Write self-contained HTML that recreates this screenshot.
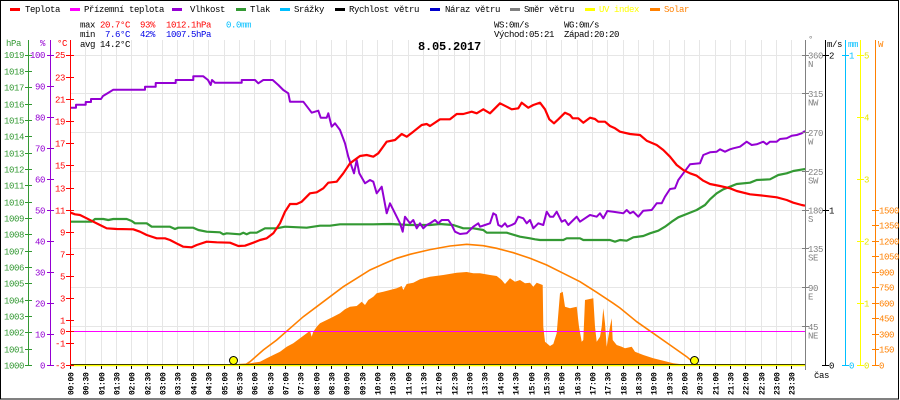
<!DOCTYPE html>
<html><head><meta charset="utf-8"><style>
body{margin:0;background:#fff}
svg{display:block}
text{font-family:"Liberation Mono","DejaVu Sans Mono",monospace;font-size:9px;letter-spacing:-0.4px}
.xl text{font-size:8px;letter-spacing:-0.3px;font-weight:bold}
</style></head><body>
<svg width="900" height="400" viewBox="0 0 900 400" xmlns="http://www.w3.org/2000/svg">
<rect width="900" height="400" fill="#fff"/>
<!-- grid -->
<path fill="none" stroke="#e6e6e6" stroke-width="1" d="M85.5 40V365M101.5 40V365M116.5 40V365M131.5 40V365M147.5 40V365M162.5 40V365M177.5 40V365M193.5 40V365M208.5 40V365M224.5 40V365M239.5 40V365M254.5 40V365M270.5 40V365M285.5 40V365M300.5 40V365M316.5 40V365M331.5 40V365M346.5 40V365M362.5 40V365M377.5 40V365M392.5 40V365M408.5 40V365M423.5 40V365M438.5 40V365M454.5 40V365M469.5 40V365M484.5 40V365M500.5 40V365M515.5 40V365M531.5 40V365M546.5 40V365M561.5 40V365M577.5 40V365M592.5 40V365M607.5 40V365M623.5 40V365M638.5 40V365M653.5 40V365M669.5 40V365M684.5 40V365M699.5 40V365M715.5 40V365M730.5 40V365M745.5 40V365M761.5 40V365M776.5 40V365M791.5 40V365M70 55.5H805M70 93.5H805M70 132.5H805M70 171.5H805M70 210.5H805M70 248.5H805M70 287.5H805M70 326.5H805"/>
<!-- solar fill -->
<polygon fill="#ff8000" points="234,365 236.7,364 250,363.3 260,361.7 266.7,358.3 273.3,355 280,351.7 286.7,346.7 293.3,343.3 300,338.3 306.7,333.3 310,330.7 311.7,336.7 313.3,331.7 316.7,326.7 320,323.3 326.7,320 333.3,316.7 340,313.3 345,309.3 350,306.7 356.7,306 361.7,301.7 365,305 368.3,300 373.3,296.7 376.7,293.3 383.3,291.7 390,290 396.7,288.3 401.7,286 403.3,290 406.7,284 413.3,282.7 420,279.3 430,276.7 443.3,275 456.7,272.7 466.7,272 473.3,273.3 480,273.3 490,275 496.7,276 501.7,280 505,284 510,278.3 515,281.7 520,280 525,283.3 530,282.7 533.3,286.7 536.7,282.7 542.7,285 543.3,326.7 545,341.7 550,346 553.3,344 556.7,333.3 560,293.3 562.7,291.7 565,306.7 570,308.3 576.7,306.7 579,326.7 581.7,341.7 583.3,340 585,300 593.3,298.3 595,326.7 596.7,341.7 600,336.7 601.7,326.7 603.3,308.3 605,323.3 606.7,346.7 610,326.7 611.7,318.3 612.7,340 616.7,345 621.7,346.7 625,348.3 631.7,346.7 635,351.7 643.3,355 653.3,358.3 663.3,360.7 673.3,363.3 681.7,364.3 681.7,365"/>
<!-- clear sky -->
<polyline fill="none" stroke="#ff8000" stroke-width="1.6" points="234,365 245,365 250,361.7 263.3,350 276.7,340 290,328.3 303.3,316.7 316.7,306.7 330,296.7 343.3,286.7 356.7,278.3 370,270 383.3,264 396.7,258.3 410,254.3 430,249.6 450,246 466.7,244.3 483.3,245.7 496.7,248.3 513.3,252.7 530,258.3 546.7,265 563.3,273.3 580,281.7 596.7,292.3 613.3,303.3 620,308 636.7,321.7 653.3,333.3 670,345 686.7,356.7 694,363"/>
<!-- magenta -->
<path d="M70 331.5H805" stroke="#ff00ff" stroke-width="1"/>
<!-- pressure -->
<polyline fill="none" stroke="#339933" stroke-width="2.2" stroke-linejoin="round" points="70.7,221.7 91.7,221.7 95,219 103.3,219 108.3,220 113.3,219 126.7,219 131.7,221 135,223.3 146.7,223.3 151.7,226.7 170,226.7 175,229 178.3,227.7 193.3,227.7 198.3,230 206.7,231.7 220,232.3 223.3,234.3 226.7,233.3 240,234.3 243.3,232.7 246.7,234.3 250,232.7 256.7,232.7 265,228.3 276.7,228.3 285,226.7 306.7,227.7 320,225.7 330,225.7 340,224.3 373.3,224.3 390,224 410,225 430,225 440,224 453.3,225 463.3,228.3 473.3,228.3 483.3,230 486.7,232.7 506.7,232.7 520,236.7 530,238.3 535,239.3 540,240 563.3,240 566.7,238.3 580,238.3 583.3,240 610,240 615,241.7 620,240 626.7,240.7 633.3,237.3 643.3,236 650,233.3 658.3,230.7 665,226.7 671.7,221.7 678.3,217.3 686.7,214 696.7,210 705,205 710,199.3 716.7,193.3 723.3,189.3 730,186.7 736.7,184 750,182.7 756.7,180 770,179.3 778.3,175 786.7,173.3 793.3,171 803.3,169.3 805,169"/>
<!-- humidity -->
<polyline fill="none" stroke="#9400d3" stroke-width="2" stroke-linejoin="round" points="70.7,107.7 76,107.7 76,104.7 85.7,104.7 85.7,102 91,102 91,99 101,99 103,96 108,93 113.3,89.7 145,89.7 145,86.7 155.7,86.7 155.7,83 175.7,83 175.7,80 193.3,80 193.3,76.3 203.3,76.3 208,80 210.7,85 212,80 215,82.7 241.7,82.7 241.7,80 255,80 258.3,83.3 263.3,80 272.7,80 278.3,85 283.3,90 288.3,93.3 290,101.7 303.3,101.7 311.7,112.7 318.3,110.7 320.7,117.7 326.7,117.7 328.3,113.3 331.7,126.7 335,123.3 340,130 345,143.3 348.3,156.7 351.7,166.7 354,173.3 356.7,160 359.3,173.3 365,183.3 370,180 373.3,181.7 376.7,193.3 381.7,186.7 386.7,213.3 390,203.3 395,213.3 400,223.3 402.7,231.7 405,216.7 410,223.3 413.3,220 416.7,228.3 420,223.3 423.3,228.3 426.7,225 430,223.3 435,220 438.3,223.3 441.7,220 448.3,220 451.7,225 455,231.7 460,234 466.7,233.3 473.3,226.7 478.3,223.3 480,226.7 485,225 490,223.3 493.3,213.3 496,215 498.3,225 501.7,226.7 505,223.3 507.3,226.7 511.7,225 515,223.3 518.3,216.7 523.3,218.3 526.7,223.3 530,220 533.3,228.3 538.3,223.3 543.3,225 546.7,211.7 550,216.7 553.3,216.7 556.7,211.7 561.7,221.7 565,220 568.3,225 573.3,220 576.7,216.7 580,221.7 585,218.3 590,215 596.7,216.7 600,213.3 603.3,218.3 607.3,211 613.3,211.7 620,212.7 623.3,213.3 626.7,210 630,213.3 633.3,211.7 638.3,216.7 643.3,210.7 651.7,210 656.7,203.3 661.7,203.3 665,196.7 670,189 675,188.3 678.3,180 683.3,173.3 690,164.3 700,163.3 703.3,155 710,152.3 716.7,151.7 720,149.3 725,151.7 730,149.3 733.3,148.3 740,146.7 746.7,141.7 751.7,145 756.7,144.3 763.3,141.7 766.7,144.3 770,141.7 776.7,141.7 780,139 786.7,138.3 791.7,135.7 796.7,135 801.7,133.3 805,131"/>
<!-- temperature -->
<polyline fill="none" stroke="#ff0000" stroke-width="2.2" stroke-linejoin="round" points="70.7,212.7 75,214.3 80,215 86.7,218.3 93.3,221.7 100,225 106.7,228.3 116.7,229 133.3,229.3 140,231.7 146.7,235 156.7,238.3 165,238.3 170,240 178.3,244.3 183.3,246.7 191.7,247.3 196.7,245 206.7,241.7 216.7,242.3 230,242.7 238.3,246 245,245.7 253.3,242.7 260,240 266.7,238.3 273.3,233.3 280,223.3 285,211.7 290,204 296.7,204 301.7,201.7 310,193.3 316.7,192.3 323.3,188.3 328.3,182.7 336.7,181.7 343.3,173.3 350,163.3 360,156 366.7,155 373.3,156.7 378.3,153.3 386.7,141.7 395,140 401.7,134 406.7,136.7 413.3,131.7 421.7,125 426.7,124 430,126 440,119.3 450,119.3 456.7,114 463.3,114 471.7,111.7 476.7,113.3 483.3,109.3 490,113.3 500,103.3 506.7,106.7 511.7,109.3 518.3,108.3 521.7,102.7 528.3,107.7 533.3,105 540,102.7 545,109.3 549.3,119.3 554,123.3 558.3,119.3 565,112.7 570,115 572.7,118.3 578.3,118.3 583.3,122.7 590,117.7 595,119 598.3,121.7 605,121.7 610,126 615,128.3 620,131.7 630,134 640,135 646.7,140.7 656.7,145 663.3,150 670,156.7 676.7,165 683.3,170 690,173.3 696.7,175.7 703.3,180.7 710,184 720,186 730,188.3 736.7,191 750,194.3 763.3,195.7 776.7,197.3 786.7,200 793.3,202.7 801.7,205 805,205.7"/>
<!-- bottom lines -->
<path d="M70 364.5H806" stroke="#000" stroke-width="1"/>
<path d="M70 365.5H806" stroke="#ffff00" stroke-width="1.5"/>
<path fill="none" stroke="#000" stroke-width="1" d="M70.5 366V369M85.5 366V369M101.5 366V369M116.5 366V369M131.5 366V369M147.5 366V369M162.5 366V369M177.5 366V369M193.5 366V369M208.5 366V369M224.5 366V369M239.5 366V369M254.5 366V369M270.5 366V369M285.5 366V369M300.5 366V369M316.5 366V369M331.5 366V369M346.5 366V369M362.5 366V369M377.5 366V369M392.5 366V369M408.5 366V369M423.5 366V369M438.5 366V369M454.5 366V369M469.5 366V369M484.5 366V369M500.5 366V369M515.5 366V369M531.5 366V369M546.5 366V369M561.5 366V369M577.5 366V369M592.5 366V369M607.5 366V369M623.5 366V369M638.5 366V369M653.5 366V369M669.5 366V369M684.5 366V369M699.5 366V369M715.5 366V369M730.5 366V369M745.5 366V369M761.5 366V369M776.5 366V369M791.5 366V369"/>
<!-- sun markers -->
<circle cx="233.5" cy="360.5" r="4" fill="#ffff00" stroke="#000" stroke-width="1"/>
<circle cx="694.5" cy="360.5" r="4" fill="#ffff00" stroke="#000" stroke-width="1"/>
<!-- left axes -->
<path stroke="#339933" stroke-width="1" fill="none" d="M28.5 40V366M25 55.5H32M25 71.5H32M25 87.5H32M25 104.5H32M25 120.5H32M25 136.5H32M25 153.5H32M25 169.5H32M25 185.5H32M25 202.5H32M25 218.5H32M25 234.5H32M25 251.5H32M25 267.5H32M25 283.5H32M25 300.5H32M25 316.5H32M25 332.5H32M25 349.5H32M25 365.5H32"/>
<path stroke="#9400d3" stroke-width="1" fill="none" d="M50.5 40V366M47 55.5H54M47 86.5H54M47 117.5H54M47 148.5H54M47 179.5H54M47 210.5H54M47 241.5H54M47 272.5H54M47 303.5H54M47 334.5H54M47 365.5H54"/>
<path stroke="#ff0000" stroke-width="1" fill="none" d="M70.5 40V366M66 55.5H74M66 77.5H74M66 99.5H74M66 121.5H74M66 143.5H74M66 165.5H74M66 188.5H74M66 210.5H74M66 232.5H74M66 254.5H74M66 276.5H74M66 298.5H74M66 320.5H74M66 331.5H74M66 343.5H74M66 365.5H74"/>
<!-- right axes -->
<path stroke="#808080" stroke-width="1" fill="none" d="M805.5 40V370M802 55.5H809M802 93.5H809M802 132.5H809M802 171.5H809M802 210.5H809M802 248.5H809M802 287.5H809M802 326.5H809"/>
<path stroke="#000" stroke-width="1" fill="none" d="M825.5 40V366M822 55.5H829M822 210.5H829M822 365.5H829"/>
<path stroke="#00bfff" stroke-width="1" fill="none" d="M845.5 40V366M842 55.5H849M842 365.5H849"/>
<path stroke="#ffff00" stroke-width="1" fill="none" d="M860.5 40V366M857 55.5H864M857 117.5H864M857 179.5H864M857 241.5H864M857 303.5H864M857 365.5H864"/>
<path stroke="#ff8000" stroke-width="1" fill="none" d="M875.5 40V366M872 210.5H879M872 225.5H879M872 241.5H879M872 256.5H879M872 272.5H879M872 287.5H879M872 303.5H879M872 318.5H879M872 334.5H879M872 349.5H879M872 365.5H879"/>
<!-- frame -->
<rect x="0.5" y="0.5" width="898" height="398.5" fill="none" stroke="#000" stroke-width="1"/>
<!-- legend -->
<rect x="10" y="8" width="10" height="3" fill="#ff0000"/><text x="25" y="12">Teplota</text>
<rect x="70" y="8" width="10" height="3" fill="#ff00ff"/><text x="84" y="12">Přízemní teplota</text>
<rect x="172" y="8" width="10" height="3" fill="#9400d3"/><text x="190" y="12">Vlhkost</text>
<rect x="236" y="8" width="10" height="3" fill="#339933"/><text x="250" y="12">Tlak</text>
<rect x="280" y="8" width="10" height="3" fill="#00bfff"/><text x="294" y="12">Srážky</text>
<rect x="335" y="8" width="10" height="3" fill="#000"/><text x="349" y="12">Rychlost větru</text>
<rect x="430" y="8" width="10" height="3" fill="#0000cd"/><text x="445" y="12">Náraz větru</text>
<rect x="510" y="8" width="10" height="3" fill="#808080"/><text x="524" y="12">Směr větru</text>
<rect x="585" y="8" width="10" height="3" fill="#ffff00"/><text x="599" y="12" fill="#ffff00">UV index</text>
<rect x="650" y="8" width="10" height="3" fill="#ff8000"/><text x="664" y="12" fill="#ff8000">Solar</text>
<!-- info -->
<text x="80" y="27.5">max</text><text x="100" y="27.5" fill="#ff0000">20.7°C</text><text x="140" y="27.5" fill="#ff0000">93%</text><text x="166" y="27.5" fill="#ff0000">1012.1hPa</text><text x="226" y="27.5" fill="#00bfff">0.0mm</text>
<text x="80" y="37">min</text><text x="105" y="37" fill="#0000e6">7.6°C</text><text x="140" y="37" fill="#0000e6">42%</text><text x="166" y="37" fill="#0000e6">1007.5hPa</text>
<text x="80" y="47">avg</text><text x="100" y="47">14.2°C</text>
<text x="494" y="27.5">WS:0m/s</text><text x="564" y="27.5">WG:0m/s</text>
<text x="494" y="37">Východ:05:21</text><text x="564" y="37">Západ:20:20</text>
<text x="418" y="50" style="font-size:12px;font-weight:bold;letter-spacing:-0.2px">8.05.2017</text>
<!-- left axis labels -->
<g fill="#339933" text-anchor="end">
<text x="6" y="46" text-anchor="start">hPa</text>
<text x="24" y="58">1019</text><text x="24" y="74.5">1018</text><text x="24" y="90.5">1017</text><text x="24" y="107.5">1016</text><text x="24" y="123.5">1015</text><text x="24" y="139.5">1014</text><text x="24" y="156.5">1013</text><text x="24" y="172.5">1012</text><text x="24" y="188.5">1011</text><text x="24" y="205.5">1010</text><text x="24" y="221.5">1009</text><text x="24" y="237.5">1008</text><text x="24" y="254.5">1007</text><text x="24" y="270.5">1006</text><text x="24" y="286.5">1005</text><text x="24" y="303.5">1004</text><text x="24" y="319.5">1003</text><text x="24" y="335.5">1002</text><text x="24" y="352.5">1001</text><text x="24" y="368.5">1000</text>
</g>
<g fill="#9400d3" text-anchor="end">
<text x="45" y="46">%</text>
<text x="45" y="58">100</text><text x="45" y="89.5">90</text><text x="45" y="120.5">80</text><text x="45" y="151.5">70</text><text x="45" y="182.5">60</text><text x="45" y="213.5">50</text><text x="45" y="244.5">40</text><text x="45" y="275.5">30</text><text x="45" y="306.5">20</text><text x="45" y="337.5">10</text><text x="45" y="368.5">0</text>
</g>
<g fill="#ff0000" text-anchor="end">
<text x="67" y="46">°C</text>
<text x="65" y="58">25</text><text x="65" y="80.5">23</text><text x="65" y="102.5">21</text><text x="65" y="124.5">19</text><text x="65" y="146.5">17</text><text x="65" y="168.5">15</text><text x="65" y="191.5">13</text><text x="65" y="213.5">11</text><text x="65" y="235.5">9</text><text x="65" y="257.5">7</text><text x="65" y="279.5">5</text><text x="65" y="301.5">3</text><text x="65" y="323.5">1</text><text x="65" y="334.5">0</text><text x="65" y="346.5">-1</text><text x="65" y="368.5">-3</text>
</g>
<!-- right axis labels -->
<g fill="#808080">
<text x="808" y="42">°</text>
<text x="808" y="58.5">360</text><text x="808" y="67">N</text>
<text x="808" y="97">315</text><text x="808" y="105.5">NW</text>
<text x="808" y="136">270</text><text x="808" y="144.5">W</text>
<text x="808" y="175">225</text><text x="808" y="183.5">SW</text>
<text x="808" y="213.5">180</text><text x="808" y="222">S</text>
<text x="808" y="252">135</text><text x="808" y="260.5">SE</text>
<text x="808" y="291">90</text><text x="808" y="299.5">E</text>
<text x="808" y="330">45</text><text x="808" y="338.5">NE</text>
</g>
<g fill="#000">
<text x="827" y="47">m/s</text>
<text x="829" y="58.5">2</text><text x="829" y="213.5">1</text><text x="829" y="368.5">0</text>
<text x="814" y="378">čas</text>
</g>
<g fill="#00bfff">
<text x="848" y="47">mm</text>
<text x="849" y="58.5">1</text><text x="849" y="368.5">0</text>
</g>
<g fill="#e6e600">
<text x="864" y="58.5">5</text><text x="864" y="120.5">4</text><text x="864" y="182.5">3</text><text x="864" y="244.5">2</text><text x="864" y="306.5">1</text><text x="864" y="368.5">0</text>
</g>
<g fill="#ff8000">
<text x="878" y="47">W</text>
<text x="879" y="213.5">1500</text><text x="879" y="228.5">1350</text><text x="879" y="244.5">1200</text><text x="879" y="259.5">1050</text><text x="879" y="275.5">900</text><text x="879" y="290.5">750</text><text x="879" y="306.5">600</text><text x="879" y="321.5">450</text><text x="879" y="337.5">300</text><text x="879" y="352.5">150</text><text x="879" y="368.5">0</text>
</g>
<!-- x labels -->
<g class="xl" fill="#000">
<text transform="translate(73.5,395) rotate(-90)">00:00</text>
<text transform="translate(88.5,395) rotate(-90)">00:30</text>
<text transform="translate(104.5,395) rotate(-90)">01:00</text>
<text transform="translate(119.5,395) rotate(-90)">01:30</text>
<text transform="translate(134.5,395) rotate(-90)">02:00</text>
<text transform="translate(150.5,395) rotate(-90)">02:30</text>
<text transform="translate(165.5,395) rotate(-90)">03:00</text>
<text transform="translate(180.5,395) rotate(-90)">03:30</text>
<text transform="translate(196.5,395) rotate(-90)">04:00</text>
<text transform="translate(211.5,395) rotate(-90)">04:30</text>
<text transform="translate(227.5,395) rotate(-90)">05:00</text>
<text transform="translate(242.5,395) rotate(-90)">05:30</text>
<text transform="translate(257.5,395) rotate(-90)">06:00</text>
<text transform="translate(273.5,395) rotate(-90)">06:30</text>
<text transform="translate(288.5,395) rotate(-90)">07:00</text>
<text transform="translate(303.5,395) rotate(-90)">07:30</text>
<text transform="translate(319.5,395) rotate(-90)">08:00</text>
<text transform="translate(334.5,395) rotate(-90)">08:30</text>
<text transform="translate(349.5,395) rotate(-90)">09:00</text>
<text transform="translate(365.5,395) rotate(-90)">09:30</text>
<text transform="translate(380.5,395) rotate(-90)">10:00</text>
<text transform="translate(395.5,395) rotate(-90)">10:30</text>
<text transform="translate(411.5,395) rotate(-90)">11:00</text>
<text transform="translate(426.5,395) rotate(-90)">11:30</text>
<text transform="translate(441.5,395) rotate(-90)">12:00</text>
<text transform="translate(457.5,395) rotate(-90)">12:30</text>
<text transform="translate(472.5,395) rotate(-90)">13:00</text>
<text transform="translate(487.5,395) rotate(-90)">13:30</text>
<text transform="translate(503.5,395) rotate(-90)">14:00</text>
<text transform="translate(518.5,395) rotate(-90)">14:30</text>
<text transform="translate(534.5,395) rotate(-90)">15:00</text>
<text transform="translate(549.5,395) rotate(-90)">15:30</text>
<text transform="translate(564.5,395) rotate(-90)">16:00</text>
<text transform="translate(580.5,395) rotate(-90)">16:30</text>
<text transform="translate(595.5,395) rotate(-90)">17:00</text>
<text transform="translate(610.5,395) rotate(-90)">17:30</text>
<text transform="translate(626.5,395) rotate(-90)">18:00</text>
<text transform="translate(641.5,395) rotate(-90)">18:30</text>
<text transform="translate(656.5,395) rotate(-90)">19:00</text>
<text transform="translate(672.5,395) rotate(-90)">19:30</text>
<text transform="translate(687.5,395) rotate(-90)">20:00</text>
<text transform="translate(702.5,395) rotate(-90)">20:30</text>
<text transform="translate(718.5,395) rotate(-90)">21:00</text>
<text transform="translate(733.5,395) rotate(-90)">21:30</text>
<text transform="translate(748.5,395) rotate(-90)">22:00</text>
<text transform="translate(764.5,395) rotate(-90)">22:30</text>
<text transform="translate(779.5,395) rotate(-90)">23:00</text>
<text transform="translate(794.5,395) rotate(-90)">23:30</text>
</g>
</svg>
</body></html>
